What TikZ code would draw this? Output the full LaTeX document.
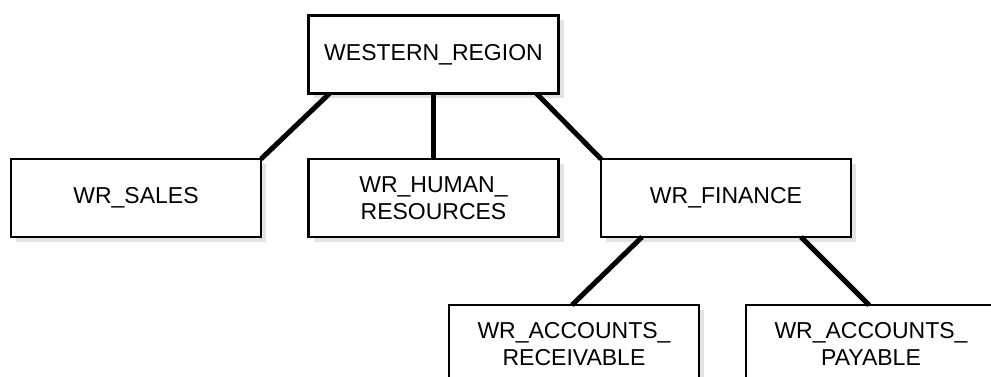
\documentclass[tikz,border=0pt]{standalone}
\usepackage{fontspec}
\setmainfont{Liberation Sans}
\usepackage{tikz}
\usetikzlibrary{shadows}
\tikzstyle{Role}=[rectangle, minimum width=250pt, minimum height=78pt, inner sep=0pt, outer sep=0pt, align=center, draw=black, line width=2.2pt, fill=white, font=\fontsize{23}{27}\selectfont, drop shadow={shadow xshift=5pt, shadow yshift=-5pt, fill=black!11, opacity=1}]
\tikzstyle{Link}=[line width=5pt, draw=black]

\begin{document}
\begin{tikzpicture}[x=1pt, y=-1pt]
    \clip (0,0) rectangle (991,377);
    \path
    (433.5,54.5) node[Role] (region) {WESTERN\_REGION}
    (136,198) node[Role] (sales) {WR\_SALES}
    (433.5,198) node[Role] (hr) {WR\_HUMAN\_\\RESOURCES}
    (726,198) node[Role] (finance) {WR\_FINANCE};

    \path
    (574,344) node[Role] (recv) {WR\_ACCOUNTS\_\\RECEIVABLE}
    (871,344) node[Role] (pay) {WR\_ACCOUNTS\_\\PAYABLE};

    \draw[Link] ([xshift=21pt]region.south west) -- (sales.north east);
    \draw[Link] (region.south) -- (hr.north);
    \draw[Link] ([xshift=-22pt]region.south east) -- (finance.north west);

    \draw[Link] ([xshift=41pt]finance.south west) -- ([xshift=-2pt]recv.north);
    \draw[Link] ([xshift=-50pt]finance.south east) -- ([xshift=-2pt]pay.north);
\end{tikzpicture}
\end{document}
